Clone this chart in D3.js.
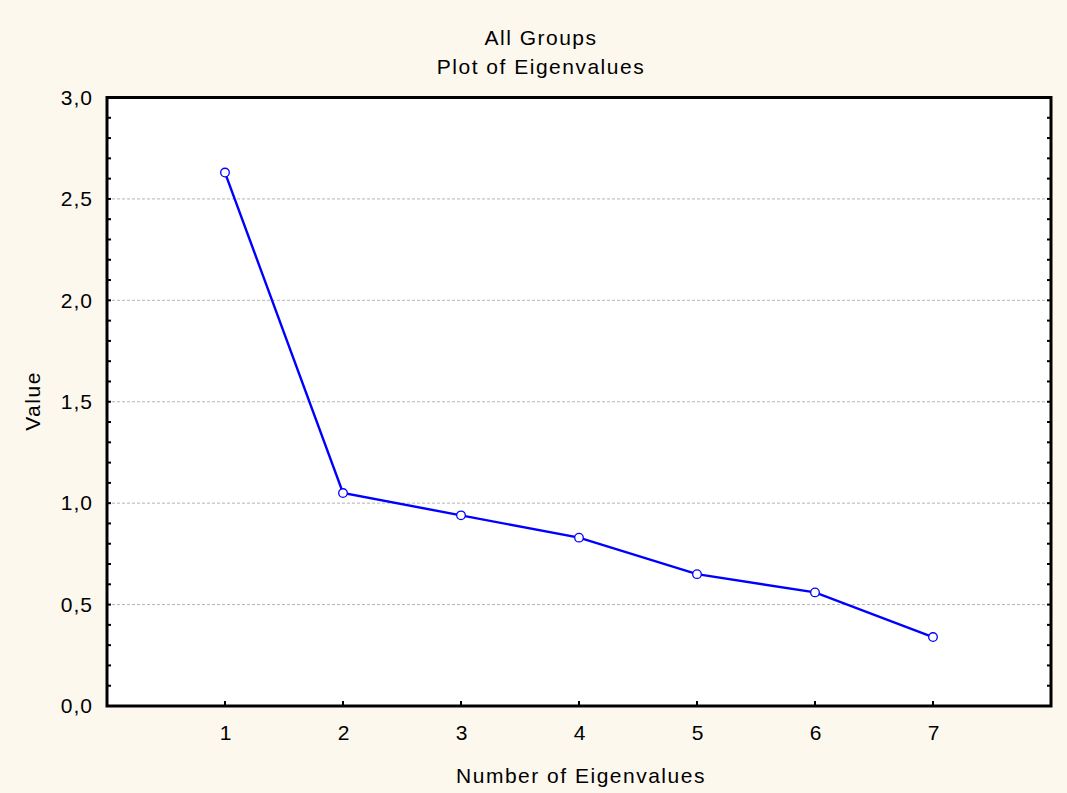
<!DOCTYPE html>
<html>
<head>
<meta charset="utf-8">
<script src="https://cdn.jsdelivr.net/npm/d3@7"></script>
<style>
  html, body { margin: 0; padding: 0; background: #fdf8ee; }
  svg { display: block; font-family: "Liberation Sans", Arial, sans-serif; }
</style>
</head>
<body>
<svg id="chart" width="1067" height="793"></svg>
<script>
// Eigenvalues of the discriminant / factor solution
const components = [1, 2, 3, 4, 5, 6, 7];
const eigenvalues = [2.63, 1.05, 0.94, 0.83, 0.65, 0.56, 0.34];
const yTickValues = [0, 0.5, 1.0, 1.5, 2.0, 2.5, 3.0];
const titleLines = ["All Groups", "Plot of Eigenvalues"];
const xTitle = "Number of Eigenvalues";
const yTitle = "Value";

const W = 1067, H = 793;
const box = { left: 107, top: 97.5, right: 1051, bottom: 706 };
const FS = 21, LS = 1.5;

const svg = d3.select("#chart");
svg.append("rect").attr("width", W).attr("height", H).attr("fill", "#fdf8ee");

const x = d3.scaleLinear().domain([0, 8]).range([box.left, box.right]);
const y = d3.scaleLinear().domain([0, 3]).range([box.bottom, box.top]);
const fmt = d => d3.format(".1f")(d).replace(".", ",");

// plot area
svg.append("rect")
  .attr("x", box.left).attr("y", box.top)
  .attr("width", box.right - box.left).attr("height", box.bottom - box.top)
  .attr("fill", "#ffffff");

// horizontal grid lines
svg.append("g").selectAll("line")
  .data(yTickValues.filter(v => v > 0 && v < 3))
  .join("line")
  .attr("x1", box.left).attr("x2", box.right)
  .attr("y1", d => y(d)).attr("y2", d => y(d))
  .attr("stroke", "#b4b4b4").attr("stroke-width", 1)
  .attr("stroke-dasharray", "3,2");

// left axis: labels + inward ticks (minor every 0.1)
const minor = d3.range(0, 31).map(i => i / 10);
const leftAxis = d3.axisLeft(y).tickValues(yTickValues).tickFormat(fmt).tickSize(0).tickPadding(14);
const gl = svg.append("g").attr("transform", `translate(${box.left},0)`).call(leftAxis);
gl.select(".domain").remove();
gl.selectAll("text").attr("font-size", FS).attr("fill", "#000")
  .attr("letter-spacing", 1)
  .attr("font-family", "Liberation Sans, Arial, sans-serif");

const tickG = svg.append("g").attr("stroke", "#000").attr("stroke-width", 2);
tickG.selectAll("line.l").data(minor).join("line").attr("class", "l")
  .attr("x1", box.left).attr("x2", box.left + 4)
  .attr("y1", d => y(d)).attr("y2", d => y(d));
tickG.selectAll("line.r").data(minor).join("line").attr("class", "r")
  .attr("x1", box.right).attr("x2", box.right - 4)
  .attr("y1", d => y(d)).attr("y2", d => y(d));

// bottom axis: labels + inward ticks
const bottomAxis = d3.axisBottom(x).tickValues(components).tickFormat(d3.format("d")).tickSize(0).tickPadding(19);
const gb = svg.append("g").attr("transform", `translate(0,${box.bottom})`).call(bottomAxis);
gb.select(".domain").remove();
gb.selectAll("text").attr("font-size", FS).attr("fill", "#000")
  .attr("font-family", "Liberation Sans, Arial, sans-serif");
tickG.selectAll("line.b").data(components).join("line").attr("class", "b")
  .attr("x1", d => x(d)).attr("x2", d => x(d))
  .attr("y1", box.bottom).attr("y2", box.bottom - 5);

// frame
svg.append("rect")
  .attr("x", box.left).attr("y", box.top)
  .attr("width", box.right - box.left).attr("height", box.bottom - box.top)
  .attr("fill", "none").attr("stroke", "#000").attr("stroke-width", 3);

// eigenvalue line and markers
const pts = components.map((c, i) => [c, eigenvalues[i]]);
svg.append("path")
  .datum(pts)
  .attr("fill", "none").attr("stroke", "#0000ff").attr("stroke-width", 2.4)
  .attr("d", d3.line().x(d => x(d[0])).y(d => y(d[1])));
svg.append("g").selectAll("circle").data(pts).join("circle")
  .attr("cx", d => x(d[0])).attr("cy", d => y(d[1])).attr("r", 4.3)
  .attr("fill", "#ffffff").attr("stroke", "#0000ff").attr("stroke-width", 1.3);

// titles
svg.append("g").selectAll("text").data(titleLines).join("text")
  .attr("x", 541)
  .attr("y", (d, i) => 45 + i * 29)
  .attr("text-anchor", "middle").attr("font-size", FS).attr("letter-spacing", LS).attr("fill", "#000")
  .text(d => d);

svg.append("text")
  .attr("x", 581).attr("y", 783)
  .attr("text-anchor", "middle").attr("font-size", FS).attr("letter-spacing", LS).attr("fill", "#000")
  .text(xTitle);

svg.append("text")
  .attr("transform", `translate(40,401) rotate(-90)`)
  .attr("text-anchor", "middle").attr("font-size", FS).attr("letter-spacing", LS).attr("fill", "#000")
  .text(yTitle);
</script>
</body>
</html>
